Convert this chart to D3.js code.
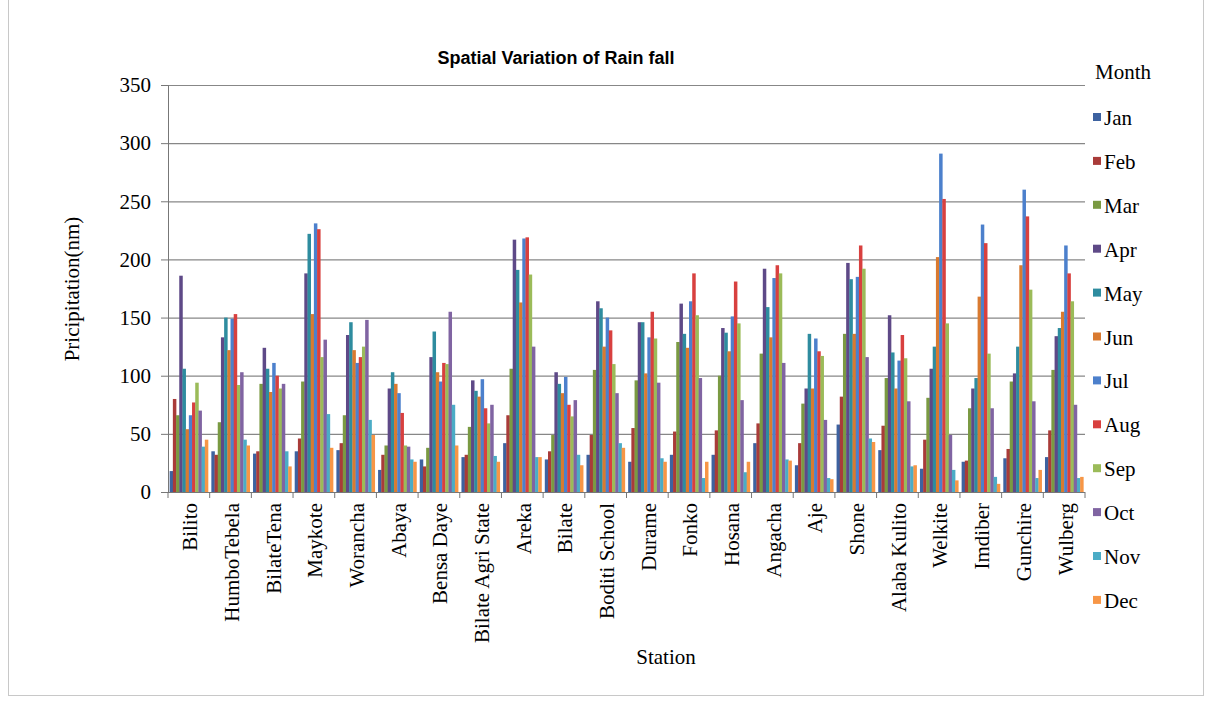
<!DOCTYPE html>
<html><head><meta charset="utf-8">
<script src="https://cdn.jsdelivr.net/npm/d3@7"></script>
<style>body{margin:0;background:#fff}svg{display:block}</style>
</head><body>
<script>
const stations = ["Bilito","HumboTebela","BilateTena","Maykote","Worancha","Abaya","Bensa Daye","Bilate Agri State","Areka","Bilate","Boditi School","Durame","Fonko","Hosana","Angacha","Aje","Shone","Alaba Kulito","Welkite","Imdiber","Gunchire","Wulberg"];
const months = ["Jan","Feb","Mar","Apr","May","Jun","Jul","Aug","Sep","Oct","Nov","Dec"];
const yTicks = [0,50,100,150,200,250,300,350];
// values per station, Jan..Dec (mm)
const Bilito = [18,80,66,186,106,54,66,77,94,70,39,45];
const HumboTebela = [35,32,60,133,150,122,149,153,92,103,45,40];
const BilateTena = [33,35,93,124,106,86,111,100,89,93,35,22];
const Maykote = [35,46,95,188,222,153,231,226,116,131,67,38];
const Worancha = [36,42,66,135,146,122,111,116,125,148,62,49];
const Abaya = [19,32,40,89,103,93,85,68,40,39,28,26];
const BensaDaye = [28,22,38,116,138,103,95,111,110,155,75,40];
const BilateAgri = [30,32,56,96,87,82,97,72,59,75,31,26];
const Areka = [42,66,106,217,191,163,218,219,187,125,30,30];
const Bilate = [28,35,49,103,93,85,99,75,65,79,32,23];
const Boditi = [32,49,105,164,158,125,150,139,110,85,42,38];
const Durame = [26,55,96,146,146,102,133,155,132,94,29,26];
const Fonko = [32,52,129,162,136,124,164,188,152,98,12,26];
const Hosana = [32,53,100,141,137,121,151,181,145,79,17,26];
const Angacha = [42,59,119,192,159,133,184,195,188,111,28,27];
const Aje = [23,42,76,89,136,89,132,121,117,62,12,11];
const Shone = [58,82,136,197,183,136,185,212,192,116,46,43];
const AlabaKulito = [36,57,98,152,120,89,113,135,115,78,22,23];
const Welkite = [20,45,81,106,125,202,291,252,145,49,19,10];
const Imdiber = [26,27,72,89,98,168,230,214,119,72,13,7];
const Gunchire = [29,37,95,102,125,195,260,237,174,78,12,19];
const Wulberg = [30,53,105,134,141,155,212,188,164,75,12,13];
const values = [Bilito,HumboTebela,BilateTena,Maykote,Worancha,Abaya,BensaDaye,BilateAgri,Areka,Bilate,Boditi,Durame,Fonko,Hosana,Angacha,Aje,Shone,AlabaKulito,Welkite,Imdiber,Gunchire,Wulberg];
const colors = ["#3d62a0","#a93b39","#7a9a42","#5e4987","#2e8c9f","#d97a30","#4c80cc","#d8403f","#9bbb59","#8064a2","#4bacc6","#f79646"];

const W = 1205, H = 702;
const svg = d3.select("body").append("svg").attr("width", W).attr("height", H);
svg.append("rect").attr("x",8.5).attr("y",-1).attr("width",1195).attr("height",696.5)
  .attr("fill","#fff").attr("stroke","#c8c8c8");

const pLeft = 168, pRight = 1085, pTop = 85, pBottom = 492;
const x0 = d3.scaleBand().domain(stations).range([pLeft, pRight]).paddingInner(0.08).paddingOuter(0.04);
const x1 = d3.scaleBand().domain(months).range([0, x0.bandwidth()]);
const y = d3.scaleLinear().domain([0,350]).range([pBottom, pTop]);

// gridlines
svg.append("g").selectAll("line").data(yTicks.filter(d=>d>0)).join("line")
  .attr("x1", pLeft).attr("x2", pRight).attr("y1", d=>y(d)+0.5).attr("y2", d=>y(d)+0.5)
  .attr("stroke","#878787").attr("stroke-width",1.2);

// bars
const g = svg.append("g");
stations.forEach((s,i)=>{
  g.append("g").attr("transform",`translate(${x0(s)},0)`)
    .selectAll("rect").data(values[i]).join("rect")
    .attr("x",(d,j)=>x1(months[j])).attr("width",x1.bandwidth()+0.3)
    .attr("y",d=>y(d)).attr("height",d=>pBottom-y(d))
    .attr("fill",(d,j)=>colors[j]);
});

// y axis
const yAxis = svg.append("g").attr("transform",`translate(${pLeft},0)`)
  .call(d3.axisLeft(y).tickValues(yTicks).tickSize(7).tickPadding(10));
yAxis.select(".domain").attr("stroke","#777");
yAxis.selectAll(".tick line").attr("stroke","#777");
yAxis.selectAll("text").attr("font-family","Liberation Serif").attr("font-size",21).attr("fill","#000");

// x axis
svg.append("line").attr("x1",pLeft).attr("x2",pRight).attr("y1",pBottom+0.5).attr("y2",pBottom+0.5).attr("stroke","#777");
const boundaries = d3.range(stations.length+1).map(i=>pLeft + i*(pRight-pLeft)/stations.length);
svg.append("g").selectAll("line").data(boundaries).join("line")
  .attr("x1",d=>d).attr("x2",d=>d).attr("y1",pBottom).attr("y2",pBottom+6).attr("stroke","#777");
svg.append("g").selectAll("text").data(stations).join("text")
  .attr("transform",d=>`translate(${x0(d)+x0.bandwidth()/2+1},${pBottom+11}) rotate(-90)`)
  .attr("text-anchor","end").attr("dy","0.35em")
  .attr("font-family","Liberation Serif").attr("font-size",21).text(d=>d);

// titles
svg.append("text").attr("x",556).attr("y",64).attr("text-anchor","middle")
  .attr("font-family","Liberation Sans").attr("font-weight","bold").attr("font-size",18)
  .text("Spatial Variation of Rain fall");
svg.append("text").attr("transform","translate(79,289) rotate(-90)").attr("text-anchor","middle")
  .attr("font-family","Liberation Serif").attr("font-size",21).text("Pricipitation(nm)");
svg.append("text").attr("x",666).attr("y",664).attr("text-anchor","middle")
  .attr("font-family","Liberation Serif").attr("font-size",21).text("Station");

// legend
svg.append("text").attr("x",1095).attr("y",79).attr("font-family","Liberation Serif").attr("font-size",21).text("Month");
const lg = svg.append("g").selectAll("g").data(months).join("g")
  .attr("transform",(d,i)=>`translate(1093,${118+i*43.9})`);
lg.append("rect").attr("x",0).attr("y",-5).attr("width",8).attr("height",8).attr("fill",(d,i)=>colors[i]);
lg.append("text").attr("x",11).attr("y",7).attr("font-family","Liberation Serif").attr("font-size",21).text(d=>d);
</script>
</body></html>
